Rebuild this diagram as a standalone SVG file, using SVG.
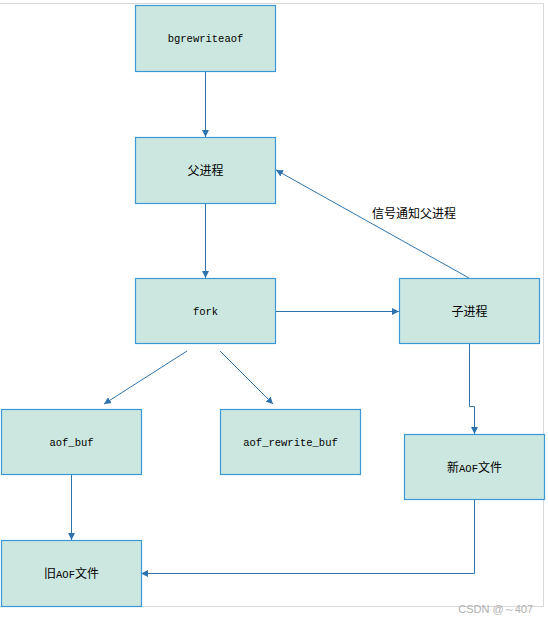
<svg xmlns="http://www.w3.org/2000/svg" width="548" height="623" viewBox="0 0 548 623">
<style>
.node rect{fill:#cce7df;stroke:#3b97d6;stroke-width:1.2}
.mono{font-family:"Liberation Mono","DejaVu Sans Mono",monospace;font-size:10.5px;fill:#000}
.cjk{font-family:"Noto Sans CJK SC","Noto Sans CJK JP",sans-serif;font-size:12px;fill:#000}
.conn path{fill:none;stroke:#2e73ad;stroke-width:1}
.frame{fill:none;stroke:#d9d9d9;stroke-width:1}
</style>
<defs>
<marker id="arr" viewBox="0 0 10 10" refX="10" refY="5" markerWidth="7" markerHeight="7" markerUnits="userSpaceOnUse" orient="auto">
<path d="M0,0 L10,5 L0,10 z" fill="#2e73ad"/>
</marker>
</defs>
<rect width="548" height="623" fill="#fff"/>
<path class="frame" d="M0,3.5 H543.5 V606.5 H0"/>
<g class="conn">
<path d="M205.5,71 V137" marker-end="url(#arr)"/>
<path d="M205.5,203 V278" marker-end="url(#arr)"/>
<path d="M275,311.5 H399" marker-end="url(#arr)"/>
<path d="M469,278 L276,170" marker-end="url(#arr)"/>
<path d="M187,351 L104,404" marker-end="url(#arr)"/>
<path d="M220,351 L273,404" marker-end="url(#arr)"/>
<path d="M469.5,343 V406.5 H474.5 V434" marker-end="url(#arr)"/>
<path d="M474.5,499 V573.5 H141" marker-end="url(#arr)"/>
<path d="M71.5,474 V540" marker-end="url(#arr)"/>
</g>
<text class="cjk" x="414" y="218" text-anchor="middle">信号通知父进程</text>
<g class="node" id="bgrewriteaof"><rect x="135.5" y="5.5" width="140" height="66"/><text class="mono" x="205.5" y="42" text-anchor="middle">bgrewriteaof</text></g>
<g class="node" id="parent"><rect x="135.5" y="137.5" width="140" height="66"/><text class="cjk" x="205.5" y="174.5" text-anchor="middle">父进程</text></g>
<g class="node" id="fork"><rect x="135.5" y="278.5" width="140" height="65"/><text class="mono" x="205.5" y="315" text-anchor="middle">fork</text></g>
<g class="node" id="child"><rect x="399.5" y="278.5" width="140" height="65"/><text class="cjk" x="469.5" y="315.5" text-anchor="middle">子进程</text></g>
<g class="node" id="aof_buf"><rect x="1.5" y="409.5" width="140" height="65"/><text class="mono" x="71.5" y="446" text-anchor="middle">aof_buf</text></g>
<g class="node" id="aof_rewrite_buf"><rect x="220.5" y="409.5" width="140" height="65"/><text class="mono" x="290.5" y="446" text-anchor="middle">aof_rewrite_buf</text></g>
<g class="node" id="new_aof"><rect x="404.5" y="434.5" width="140" height="65"/><text class="cjk" x="474.5" y="471.5" text-anchor="middle">新<tspan class="mono">AOF</tspan>文件</text></g>
<g class="node" id="old_aof"><rect x="1.5" y="540.5" width="140" height="66"/><text class="cjk" x="71.5" y="577.5" text-anchor="middle">旧<tspan class="mono">AOF</tspan>文件</text></g>
<text x="533" y="613" text-anchor="end" font-family="Liberation Sans, Arial, sans-serif" font-size="11" fill="#b0b0b0">CSDN @～407</text>
</svg>
